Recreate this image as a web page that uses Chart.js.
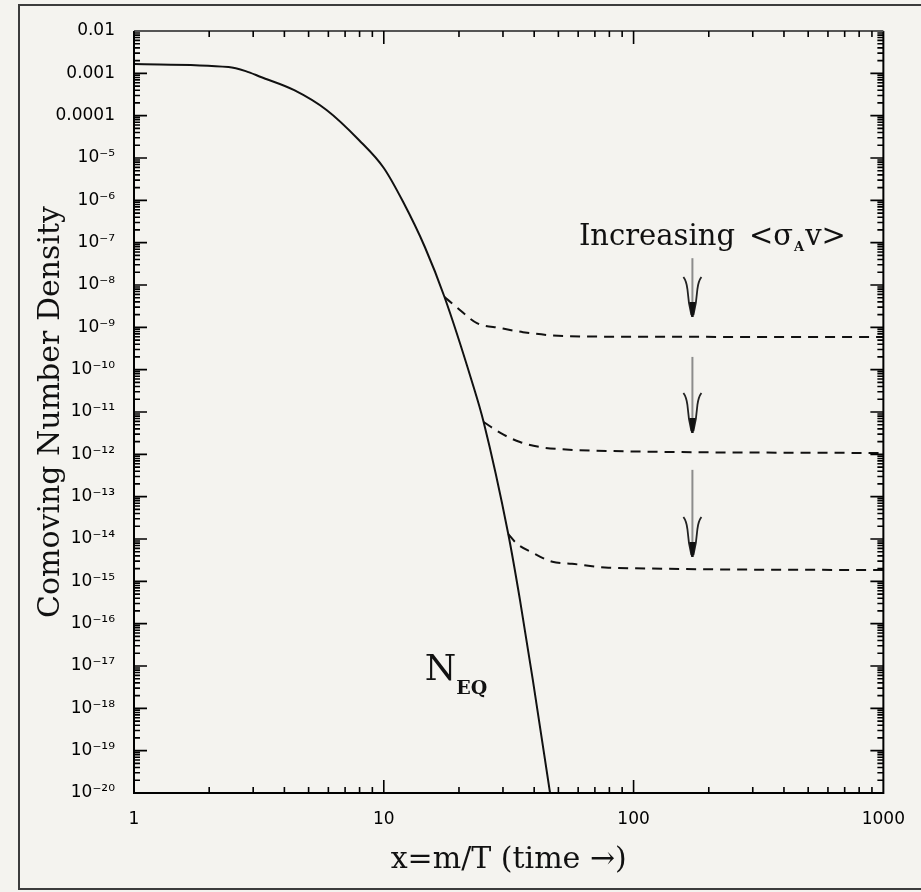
<!DOCTYPE html>
<html>
<head>
<meta charset="utf-8">
<script src="https://cdn.jsdelivr.net/npm/chart.js@4.4.1/dist/chart.umd.min.js"></script>
<style>
  html, body { margin: 0; padding: 0; background: #f4f3ef; }
  #wrap { width: 921px; height: 892px; }
</style>
</head>
<body>
<div id="wrap"><canvas id="chart" width="921" height="892"></canvas></div>
<script>
// axis ticks
const xTickValues = [1, 10, 100, 1000];
const xTickLabels = ['1', '10', '100', '1000'];
const yTickValues = [1e-20, 1e-19, 1e-18, 1e-17, 1e-16, 1e-15, 1e-14, 1e-13, 1e-12, 1e-11,
                     1e-10, 1e-9, 1e-8, 1e-7, 1e-6, 1e-5, 1e-4, 1e-3, 1e-2];
const yTickLabels = ['10⁻²⁰', '10⁻¹⁹', '10⁻¹⁸', '10⁻¹⁷', '10⁻¹⁶', '10⁻¹⁵', '10⁻¹⁴', '10⁻¹³', '10⁻¹²', '10⁻¹¹',
                     '10⁻¹⁰', '10⁻⁹', '10⁻⁸', '10⁻⁷', '10⁻⁶', '10⁻⁵', '0.0001', '0.001', '0.01'];

// equilibrium curve N_EQ (solid)
const eqX = [1, 2.39, 2.8, 3.22, 4.38, 5.9, 7.95, 10, 11.96, 14.6, 17.5, 22.5, 25.1, 31.5, 35.1, 39.5, 46.3];
const eqY = [1.66e-3, 1.41e-3, 1.13e-3, 8.2e-4, 4.0e-4, 1.36e-4, 2.66e-5, 5.8e-6, 9.1e-7, 7.9e-8, 5.2e-9,
             5.4e-11, 5.8e-12, 1.31e-14, 3.6e-16, 4.7e-18, 1e-20];

// freeze-out curves (dashed), increasing <sigma_A v>
const fo1X = [17.5, 19.7, 23.6, 29.3, 36.1, 53.2, 100, 1000];
const fo1Y = [5.2e-9, 2.9e-9, 1.26e-9, 9.6e-10, 7.7e-10, 6.2e-10, 6.0e-10, 5.9e-10];
const fo2X = [25.1, 29.3, 35.1, 42.1, 50.4, 79.3, 1000];
const fo2Y = [5.8e-12, 3.2e-12, 1.95e-12, 1.49e-12, 1.33e-12, 1.2e-12, 1.07e-12];
const fo3X = [31.5, 33.9, 39.5, 47.3, 56.7, 79.3, 1000];
const fo3Y = [1.31e-14, 8.0e-15, 4.7e-15, 2.9e-15, 2.6e-15, 2.1e-15, 1.85e-15];

// arrows at x = 172
const arrowX = 172;
const arrowTop = [4.3e-8, 2.0e-10, 4.3e-13];
const arrowTip = [1.75e-9, 3.2e-12, 3.75e-15];

const pts = (xs, ys) => xs.map((x, i) => ({ x: x, y: ys[i] }));
const serif = '"DejaVu Serif", "Liberation Serif", serif';

const decor = {
    id: 'decor',
    beforeDraw(chart) {
        const ctx = chart.ctx;
        ctx.save();
        ctx.fillStyle = '#f4f3ef';
        ctx.fillRect(0, 0, chart.width, chart.height);
        ctx.strokeStyle = '#3c3c3c';
        ctx.lineWidth = 2;
        ctx.strokeRect(19, 5, chart.width + 10, 884);
        ctx.restore();
    },
    afterDraw(chart) {
        const { ctx, chartArea: a, scales: { x, y } } = chart;
        ctx.save();

        // frame (top edge is lighter in the original)
        ctx.lineWidth = 2;
        ctx.strokeStyle = '#000';
        ctx.beginPath();
        ctx.moveTo(a.right, a.top); ctx.lineTo(a.right, a.bottom);
        ctx.lineTo(a.left, a.bottom); ctx.lineTo(a.left, a.top);
        ctx.stroke();
        ctx.strokeStyle = '#555';
        ctx.beginPath();
        ctx.moveTo(a.left, a.top); ctx.lineTo(a.right, a.top);
        ctx.stroke();

        // inward ticks
        ctx.strokeStyle = '#000';
        ctx.lineWidth = 1.6;
        ctx.beginPath();
        for (let e = 0; e < 3; e++) {
            for (let m = 1; m <= 9; m++) {
                const px = x.getPixelForValue(m * Math.pow(10, e));
                const len = m === 1 ? 13 : 6;
                ctx.moveTo(px, a.bottom); ctx.lineTo(px, a.bottom - len);
                ctx.moveTo(px, a.top); ctx.lineTo(px, a.top + len);
            }
        }
        for (let e = -20; e < -2; e++) {
            for (let m = 1; m <= 9; m++) {
                const py = y.getPixelForValue(m * Math.pow(10, e));
                const len = m === 1 ? 13 : 6;
                ctx.moveTo(a.left, py); ctx.lineTo(a.left + len, py);
                ctx.moveTo(a.right, py); ctx.lineTo(a.right - len, py);
            }
        }
        ctx.stroke();

        // arrows
        const ax = x.getPixelForValue(arrowX);
        arrowTop.forEach((v, i) => {
            const y0 = y.getPixelForValue(v);
            const y1 = y.getPixelForValue(arrowTip[i]);
            ctx.strokeStyle = '#8c8c8c';
            ctx.lineWidth = 2;
            ctx.beginPath();
            ctx.moveTo(ax, y0); ctx.lineTo(ax, y1 - 12);
            ctx.stroke();
            ctx.strokeStyle = '#222';
            ctx.lineWidth = 1.8;
            ctx.beginPath();
            ctx.moveTo(ax - 9, y1 - 40);
            ctx.quadraticCurveTo(ax - 6, y1 - 36, ax - 5, y1 - 28);
            ctx.quadraticCurveTo(ax - 4, y1 - 14, ax - 1, y1 - 2);
            ctx.moveTo(ax + 9, y1 - 40);
            ctx.quadraticCurveTo(ax + 6, y1 - 36, ax + 5, y1 - 28);
            ctx.quadraticCurveTo(ax + 4, y1 - 14, ax + 1, y1 - 2);
            ctx.stroke();
            ctx.fillStyle = '#111';
            ctx.beginPath();
            ctx.moveTo(ax - 3, y1 - 15); ctx.lineTo(ax + 3, y1 - 15);
            ctx.lineTo(ax + 1.2, y1); ctx.lineTo(ax - 1.2, y1);
            ctx.closePath();
            ctx.fill();
        });

        // "Increasing <σAv>"
        ctx.fillStyle = '#111';
        ctx.textBaseline = 'alphabetic';
        ctx.textAlign = 'left';
        let tx = x.getPixelForValue(60.4);
        const ty = y.getPixelForValue(8.8e-8);
        ctx.font = '29px ' + serif;
        ctx.fillText('Increasing', tx, ty);
        tx += ctx.measureText('Increasing').width + 14;
        ctx.fillText('<σ', tx, ty);
        tx += ctx.measureText('<σ').width + 1;
        ctx.font = 'bold 13px ' + serif;
        ctx.fillText('A', tx, ty + 6);
        tx += ctx.measureText('A').width + 1;
        ctx.font = '29px ' + serif;
        ctx.fillText('v>', tx, ty);

        // N_EQ
        const nx = x.getPixelForValue(14.6);
        const ny = y.getPixelForValue(4.7e-18);
        ctx.font = '36px ' + serif;
        ctx.fillText('N', nx, ny);
        const nw = ctx.measureText('N').width;
        ctx.font = 'bold 19px ' + serif;
        ctx.fillText('EQ', nx + nw, ny + 14);

        ctx.restore();
    }
};

const lineStyle = {
    borderColor: '#111',
    borderWidth: 2,
    pointRadius: 0,
    fill: false,
    cubicInterpolationMode: 'monotone'
};

new Chart(document.getElementById('chart'), {
    type: 'line',
    data: {
        datasets: [
            Object.assign({ label: 'N_EQ', data: pts(eqX, eqY) }, lineStyle),
            Object.assign({ label: 'freeze-out 1', data: pts(fo1X, fo1Y), borderDash: [10, 7] }, lineStyle),
            Object.assign({ label: 'freeze-out 2', data: pts(fo2X, fo2Y), borderDash: [10, 7] }, lineStyle),
            Object.assign({ label: 'freeze-out 3', data: pts(fo3X, fo3Y), borderDash: [10, 7] }, lineStyle)
        ]
    },
    options: {
        responsive: false,
        animation: false,
        devicePixelRatio: 1,
        layout: { padding: { left: 0, right: 24, top: 31, bottom: 0 } },
        plugins: { legend: { display: false }, tooltip: { enabled: false } },
        scales: {
            x: {
                type: 'logarithmic',
                min: 1,
                max: 1000,
                grid: { display: false, drawTicks: false },
                border: { display: false },
                afterBuildTicks: s => { s.ticks = xTickValues.map(v => ({ value: v })); },
                afterFit: s => { s.height = 99; },
                ticks: {
                    autoSkip: false,
                    maxRotation: 0,
                    padding: 16,
                    color: '#000',
                    font: { family: '"DejaVu Sans", sans-serif', size: 17 },
                    callback: (v, i) => xTickLabels[i]
                },
                title: {
                    display: true,
                    text: 'x=m/T (time →)',
                    color: '#111',
                    font: { family: serif, size: 30 },
                    padding: { top: 0, bottom: 14 }
                }
            },
            y: {
                type: 'logarithmic',
                min: 1e-20,
                max: 1e-2,
                grid: { display: false, drawTicks: false },
                border: { display: false },
                afterBuildTicks: s => { s.ticks = yTickValues.map(v => ({ value: v })); },
                afterFit: s => { s.width = 134; },
                ticks: {
                    autoSkip: false,
                    padding: 19,
                    color: '#000',
                    font: { family: '"DejaVu Sans", sans-serif', size: 17 },
                    callback: (v, i) => yTickLabels[i]
                },
                title: {
                    display: true,
                    text: 'Comoving Number Density',
                    color: '#111',
                    font: { family: serif, size: 30 },
                    padding: { top: 33, bottom: 0 }
                }
            }
        }
    },
    plugins: [decor]
});
</script>
</body>
</html>
